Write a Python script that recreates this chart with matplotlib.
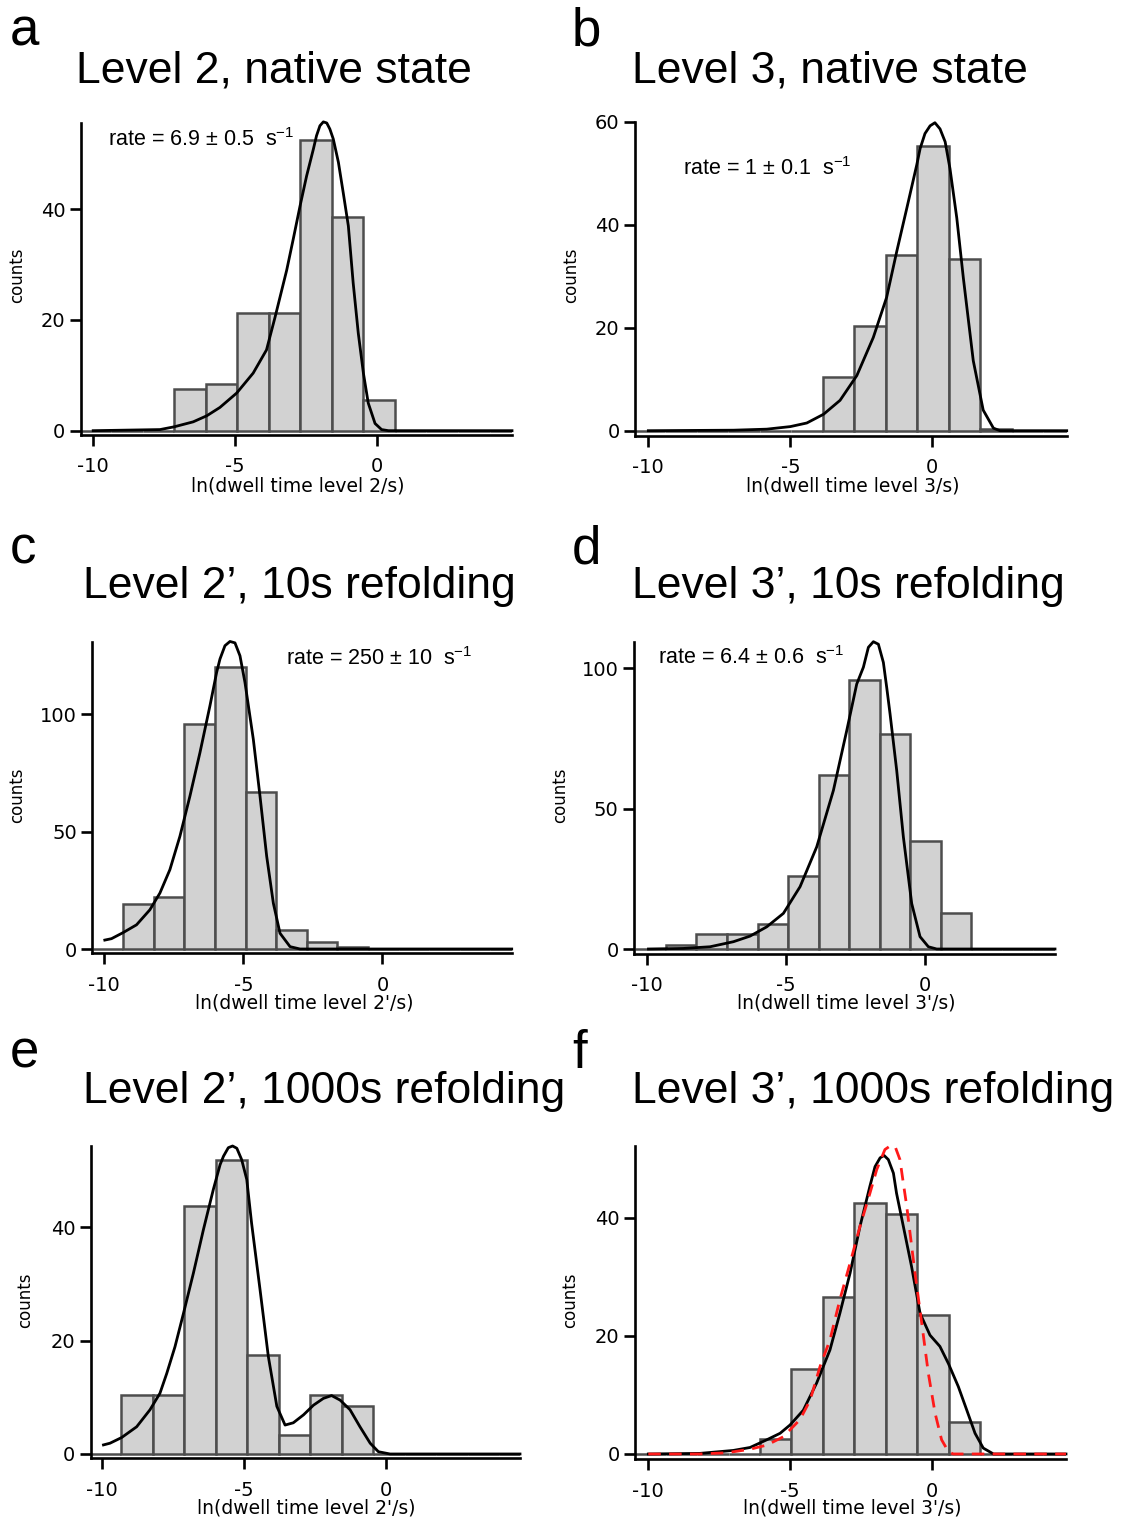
import numpy as np
import matplotlib
matplotlib.use("Agg")
import matplotlib.pyplot as plt

plt.rcParams['mathtext.default'] = 'regular'

# ---- histogram data (bin left edge, bin width, counts) ----
a_start, a_width = -10.48, 1.11
a_counts = [0, 0, 0, 7.6, 8.4, 21.3, 21.3, 52.5, 38.7, 5.5, 0, 0, 0, 0]
b_start, b_width = -10.52, 1.11
b_counts = [0, 0, 0, 0, 0, 0, 10.5, 20.4, 34.2, 55.2, 33.4, 0.3, 0, 0]
c_start, c_width = -10.42, 1.10
c_counts = [0, 19, 22, 96, 120, 67, 8, 3, 1, 0, 0, 0, 0, 0]
d_start, d_width = -10.43, 1.10
d_counts = [0, 1.5, 5.5, 5.5, 9, 26, 62, 96, 76.5, 38.5, 13, 0, 0, 0]
e_start, e_width = -10.45, 1.11
e_counts = [0, 10.4, 10.4, 43.8, 51.9, 17.5, 3.4, 10.4, 8.5, 0, 0, 0, 0, 0]
f_start, f_width = -10.50, 1.11
f_counts = [0, 0, 0, 0, 2.5, 14.3, 26.5, 42.4, 40.6, 23.5, 5.4, 0, 0, 0]

# ---- fitted curves ----
a_cx = [-10, -7.65, -7.15, -6.48, -6.0, -5.54, -4.95, -4.37, -3.9, -3.6, -3.19, -2.96, -2.72,
        -2.49, -2.25, -2.14, -2.02, -1.90, -1.78, -1.67, -1.55, -1.37, -1.20, -1.02, -0.85,
        -0.67, -0.49, -0.32, -0.08, 0.15, 0.39, 4.74]
a_cy = [0, 0.2, 0.7, 1.6, 2.7, 4.2, 6.8, 10.4, 14.6, 20.5, 29, 34.6, 40.6,
        46, 50.9, 53.3, 55.1, 55.8, 55.6, 54.5, 52.7, 48.5, 43.0, 37, 26.7,
        17.6, 10.4, 5.0, 1.3, 0.2, 0, 0]

b_cx = [-10, -7.0, -5.83, -5.0, -4.42, -3.83, -3.25, -2.66, -2.08, -1.61, -1.25, -0.9, -0.55,
        -0.43, -0.26, -0.08, 0.09, 0.27, 0.45, 0.62, 0.86, 1.09, 1.44, 1.79, 2.15, 2.38, 4.73]
b_cy = [0, 0.1, 0.3, 0.8, 1.5, 3.2, 5.9, 10.7, 18.1, 25.9, 34.9, 43.2, 51.6,
        54.8, 57.7, 59.2, 59.8, 58.6, 56.1, 50.9, 41.3, 29.7, 13.6, 4.0, 0.5, 0, 0]

c_cx = [-9.98, -9.74, -9.32, -8.84, -8.36, -8.0, -7.64, -7.28, -6.92, -6.56, -6.2, -5.96, -5.84,
        -5.66, -5.48, -5.30, -5.12, -4.94, -4.64, -4.40, -4.16, -3.92, -3.68, -3.32, -2.96, 4.65]
c_cy = [3.8, 4.4, 7.0, 10.3, 16.7, 23.8, 33.8, 48, 65.1, 83.6, 103.6, 117.8, 123.5,
        129.2, 131, 130.4, 124.9, 113.5, 89.3, 65.1, 39.5, 19.5, 6.7, 1.0, 0, 0]

d_cx = [-9.96, -8.70, -7.74, -6.90, -6.30, -5.70, -5.10, -4.50, -3.90, -3.30, -2.82, -2.46, -2.22,
        -2.04, -1.86, -1.68, -1.50, -1.38, -1.26, -1.02, -0.78, -0.48, -0.18, 0.12, 0.42, 4.68]
d_cy = [0, 0.2, 0.8, 2.6, 4.6, 7.9, 12.7, 22.2, 36.4, 56.5, 77.8, 94.4, 100.4,
        107.5, 109.5, 108.6, 102.1, 93.2, 83.8, 63.6, 39.9, 16.2, 4.4, 0.8, 0, 0]

e_cx = [-9.96, -9.73, -9.32, -8.79, -8.32, -7.97, -7.73, -7.44, -7.14, -6.79, -6.44, -6.09, -5.85,
        -5.73, -5.56, -5.41, -5.26, -5.09, -4.91, -4.74, -4.44, -4.15, -3.85, -3.56, -3.27, -2.91,
        -2.56, -2.21, -1.92, -1.62, -1.27, -0.92, -0.56, -0.27, 0.14, 4.72]
e_cy = [1.6, 1.9, 2.9, 4.8, 7.8, 10.7, 14.2, 18.9, 24.8, 31.9, 39.5, 46.6, 51.0,
        52.5, 54.0, 54.3, 53.9, 51.9, 48.4, 40.7, 28.9, 17.2, 8.4, 5.1, 5.5, 6.9,
        8.6, 9.8, 10.3, 9.5, 7.8, 4.8, 1.9, 0.4, 0, 0]

f_cx = [-10, -8.18, -7.0, -6.41, -5.82, -5.35, -5.0, -4.53, -4.06, -3.59, -3.24, -2.88, -2.53,
        -2.18, -2.0, -1.82, -1.68, -1.53, -1.35, -1.24, -1.0, -0.71, -0.41, -0.06, 0.29, 0.59,
        0.94, 1.24, 1.53, 1.82, 2.18, 4.74]
f_cy = [0, 0.1, 0.6, 1.1, 2.4, 3.5, 4.9, 7.4, 12.0, 17.6, 23.8, 30.6, 38.5,
        45.3, 48.6, 50.1, 50.5, 49.8, 47.5, 44.1, 38.5, 31.7, 23.8, 20.1, 18.2, 15.3,
        11.4, 7.4, 3.5, 1.0, 0, 0]
f_rx = [-10, -8.18, -7.24, -6.41, -5.82, -5.24, -4.65, -4.29, -3.94, -3.59, -3.24, -2.88, -2.53,
        -2.18, -1.94, -1.65, -1.47, -1.29, -1.12, -1.0, -0.88, -0.59, -0.35, -0.12, 0.12, 0.35,
        0.59, 0.76, 4.74]
f_ry = [0, 0, 0.2, 0.8, 1.5, 2.9, 5.8, 9.1, 14.8, 19.3, 26.1, 32.3, 38.5,
        44.1, 48.1, 51.5, 52.1, 52.0, 49.8, 45.8, 41.9, 30.6, 22.1, 13.7, 6.9, 2.4,
        0.4, 0, 0]

W, H = 1125, 1522
fig = plt.figure(figsize=(W / 100, H / 100), dpi=100)

TXT = 'Liberation Sans'
LAB = 'DejaVu Sans'


def fx(px):
    return px / W


def fy(py):
    return 1 - py / H


def panel(box, xlim, ylim, yticks, start, width, counts, cx, cy):
    l, r, b, t = box
    ax = fig.add_axes([fx(l), fy(b), (r - l) / W, (b - t) / H])
    edges = start + width * np.arange(len(counts))
    ax.bar(edges, counts, width=width, align='edge', color='#d2d2d2',
           edgecolor='#4d4d4d', linewidth=1.8, zorder=2)
    ax.plot(cx, cy, color='black', lw=2.0, zorder=4, clip_on=False, solid_joinstyle='round')
    ax.set_xlim(*xlim)
    ax.set_ylim(*ylim)
    ax.set_xticks([-10, -5, 0])
    ax.set_xticklabels(['-10', '-5', '0'])
    ax.set_yticks(yticks)
    for s in ['top', 'right']:
        ax.spines[s].set_visible(False)
    for s in ['left', 'bottom']:
        ax.spines[s].set_linewidth(1.9)
    ax.tick_params(axis='both', direction='out', length=8, width=1.9,
                   labelsize=14, colors='black')
    ax.tick_params(axis='x', pad=8)
    ax.tick_params(axis='y', pad=3)
    for lab in ax.get_xticklabels() + ax.get_yticklabels():
        lab.set_fontfamily(LAB)
    return ax


def labels(ax, letter, letter_xy, title, title_xy, xlabel, xlabel_xy, ylabel_xy, rate=None, rate_xy=None):
    fig.text(fx(letter_xy[0]), fy(letter_xy[1]), letter, fontsize=38, family=TXT, va='baseline')
    fig.text(fx(title_xy[0]), fy(title_xy[1]), title, fontsize=32, family=TXT, va='baseline')
    fig.text(fx(xlabel_xy[0]), fy(xlabel_xy[1]), xlabel, fontsize=13.5, family=LAB,
             ha='center', va='center')
    fig.text(fx(ylabel_xy[0]), fy(ylabel_xy[1]), 'counts', fontsize=12, family=LAB,
             ha='center', va='center', rotation=90)
    if rate is not None:
        fig.text(fx(rate_xy[0]), fy(rate_xy[1]), rate, fontsize=15.5, family=TXT, va='baseline')


ax_a = panel((80.7, 512, 435, 122.7), (-10.44, 4.74), (-0.78, 55.65), [0, 20, 40],
             a_start, a_width, a_counts, a_cx, a_cy)
labels(ax_a, 'a', (10, 46), 'Level 2, native state', (76, 82),
       'ln(dwell time level 2/s)', (298, 486), (17, 275),
       'rate = 6.9 ± 0.5  s$^{-1}$', (108, 146))

ax_b = panel((635, 1066.7, 435.5, 121.7), (-10.47, 4.73), (-0.93, 60), [0, 20, 40, 60],
             b_start, b_width, b_counts, b_cx, b_cy)
labels(ax_b, 'b', (572, 46), 'Level 3, native state', (632, 82),
       'ln(dwell time level 3/s)', (853, 486), (571, 275),
       'rate = 1 ± 0.1  s$^{-1}$', (683, 175))

ax_c = panel((92.3, 511.7, 953.3, 641.7), (-10.43, 4.65), (-1.83, 130.9), [0, 50, 100],
             c_start, c_width, c_counts, c_cx, c_cy)
labels(ax_c, 'c', (10, 563), 'Level 2’, 10s refolding', (83, 598),
       "ln(dwell time level 2'/s)", (304, 1003), (17, 795),
       'rate = 250 ± 10  s$^{-1}$', (286, 665))

ax_d = panel((634, 1055, 954, 641.7), (-10.48, 4.68), (-1.78, 109.5), [0, 50, 100],
             d_start, d_width, d_counts, d_cx, d_cy)
labels(ax_d, 'd', (572, 563), 'Level 3’, 10s refolding', (632, 598),
       "ln(dwell time level 3'/s)", (846, 1003), (560, 795),
       'rate = 6.4 ± 0.6  s$^{-1}$', (658, 664))

ax_e = panel((90.7, 520, 1458.3, 1146), (-10.41, 4.72), (-0.76, 54.3), [0, 20, 40],
             e_start, e_width, e_counts, e_cx, e_cy)
labels(ax_e, 'e', (10, 1068), 'Level 2’, 1000s refolding', (83, 1103),
       "ln(dwell time level 2'/s)", (306, 1508), (25, 1300))

ax_f = panel((635, 1066, 1459.3, 1146), (-10.47, 4.74), (-0.9, 52.1), [0, 20, 40],
             f_start, f_width, f_counts, f_cx, f_cy)
ax_f.plot(f_rx, f_ry, color='#ff1a1a', lw=2.0, dashes=(4.5, 3), zorder=5, clip_on=False)
labels(ax_f, 'f', (572, 1068), 'Level 3’, 1000s refolding', (632, 1103),
       "ln(dwell time level 3'/s)", (852, 1508), (570, 1300))

fig.savefig('out.png', dpi=100)
